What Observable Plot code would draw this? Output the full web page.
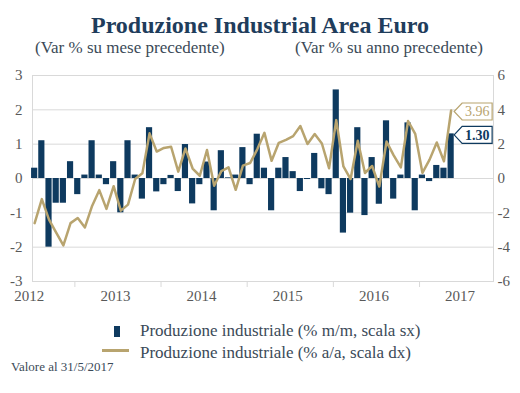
<!DOCTYPE html>
<html>
<head>
<meta charset="utf-8">
<script src="https://cdn.jsdelivr.net/npm/d3@7"></script>
<script src="https://cdn.jsdelivr.net/npm/@observablehq/plot@0.6"></script>
<style>
  html, body { margin: 0; padding: 0; background: #fff; }
  #wrap { position: relative; width: 520px; height: 393px; overflow: hidden; font-family: "Liberation Serif", serif; }
  #wrap svg { position: absolute; left: 0; top: 0; }
  .t { position: absolute; line-height: 1; white-space: nowrap; }
</style>
</head>
<body>
<div id="wrap">
  <div class="t" style="left:0;width:520px;text-align:center;top:13px;font-size:24px;font-weight:bold;color:#1f3d5c;">Produzione Industrial Area Euro</div>
  <div class="t" style="left:35px;top:38.8px;font-size:17px;color:#3b4a58;">(Var % su mese precedente)</div>
  <div class="t" style="left:295px;top:38.8px;font-size:17px;color:#3b4a58;">(Var % su anno precedente)</div>
  <div id="legend"></div>
  <div class="t" style="left:11px;top:360px;font-size:13px;color:#3b4a58;">Valore al 31/5/2017</div>
</div>
<script>
// ---- Data ----
const startYear = 2012; // first month: January 2012
const mm = [0.3, 1.1, -2.0, -0.72, -0.72, 0.49, -0.47, 0.1, 1.1, 0.1,
  -0.18, 0.49, -1.0, 1.1, 0.1, -0.6, 1.48, -0.39, -0.18, 0.09,
  -0.38, 0.99, -0.74, -0.18, 0.48, -0.94, 0.81, 0.02, 0.1, 0.9,
  -0.18, 1.29, 0.3, -0.94, 0.3, 0.61, 0.2, -0.38, -0.03, 0.73,
  -0.3, -0.47, 2.58, -1.59, -1.01, 1.48, -1.08, 0.61, -0.75, 1.68,
  -0.6, 0.1, 1.62, -0.94, 0.1, -0.09, 0.38, 0.3, 1.30];
const aa = [-2.6, -1.2, -2.4, -3.15, -3.9, -2.6, -2.3, -2.85, -1.6, -0.68,
  -1.77, -0.45, -1.87, -1.52, -0.03, 0.3, 2.63, 1.57, 1.78, 1.85,
  0.4, 1.75, 0.58, 0.16, 1.66, -0.42, 0.43, 0.65, -0.66, 0.75,
  0.9, 1.7, 2.66, 1.03, 2.08, 2.25, 2.47, 3.06, 2.01, 2.59,
  2.04, 0.6, 3.4, 0.7, -0.03, 2.2, 0.32, 0.73, -0.47, 2.15,
  1.35, 0.65, 3.35, 2.6, 0.33, 1.1, 2.1, 1.0, 3.96];
const years = ["2012", "2013", "2014", "2015", "2016", "2017"];
const yLeftTicks = [-3, -2, -1, 0, 1, 2, 3];
const yRightTicks = [-6, -4, -2, 0, 2, 4, 6];
const seriesNames = ["Produzione industriale (% m/m, scala sx)", "Produzione industriale (% a/a, scala dx)"];
const lastLabels = ["3.96", "1.30"];

// ---- Styles ----
const barColor = "#0e3a5f";
const lineColor = "#b8a46f";
const gridColor = "#d9d9d9";

const months = mm.map((v, i) => ({
  i,
  month: `${startYear + Math.floor(i / 12)}-${String(i % 12 + 1).padStart(2, "0")}`,
  mm: v,
  aa: aa[i]
}));
const n = months.length;
const xDomain = [-0.3, 63.9];

function callout(xv, yv, label, stroke, color, bold) {
  return (index, scales) => {
    const x0 = scales.x(xv) + 3.5;
    const y0 = scales.y(yv) + 1.5;
    const w = 38, h = 17, tip = 8;
    const g = d3.create("svg:g");
    g.append("path")
      .attr("d", `M${x0},${y0}L${x0 + tip},${y0 - h / 2}L${x0 + w},${y0 - h / 2}L${x0 + w},${y0 + h / 2}L${x0 + tip},${y0 + h / 2}Z`)
      .attr("fill", "#fff").attr("stroke", stroke).attr("stroke-width", 1.2);
    g.append("text")
      .attr("x", x0 + tip + (w - tip) / 2).attr("y", y0 + 4.8)
      .attr("text-anchor", "middle")
      .attr("font-size", 14).attr("font-family", "Liberation Serif, serif")
      .attr("font-weight", bold ? "bold" : "normal")
      .attr("fill", color).text(label);
    return g.node();
  };
}

const chart = Plot.plot({
  width: 520,
  height: 393,
  marginTop: 75,
  marginBottom: 112,
  marginLeft: 32,
  marginRight: 27,
  style: { fontFamily: "Liberation Serif, serif", color: "#595959", background: "transparent", overflow: "visible" },
  x: { type: "linear", domain: xDomain, axis: null, label: null },
  y: { domain: [-3, 3], axis: null, label: null },
  marks: [
    Plot.ruleY(yLeftTicks, { stroke: gridColor, strokeWidth: 1 }),
    Plot.frame({ stroke: gridColor }),
    Plot.axisX(years.slice(0, 5).map((d, k) => k * 12 + 5.6), { anchor: "bottom", tickSize: 6, stroke: gridColor, tickFormat: () => "", label: null }),
    Plot.text(years, { x: (d, k) => k * 12 - 0.75, frameAnchor: "bottom", dy: 19, text: d => d, fontSize: 15, fill: "#595959" }),
    Plot.axisY(yLeftTicks, { anchor: "left", tickSize: 0, tickPadding: 10, fontSize: 15, tickFormat: d => String(d), label: null }),
    Plot.axisY(yRightTicks.map(v => v / 2), { anchor: "right", tickSize: 0, tickPadding: 4, fontSize: 15, tickFormat: d => String(Math.round(d * 2)), label: null }),
    Plot.rect(months, { x1: d => d.i - 0.43, x2: d => d.i + 0.43, y1: d => 0, y2: d => d.mm, fill: barColor }),
    Plot.line(months, { x: "i", y: d => d.aa / 2, stroke: lineColor, strokeWidth: 2.5 }),
    callout(n - 1, aa[n - 1] / 2, lastLabels[0], lineColor, lineColor, false),
    callout(n - 1, mm[n - 1], lastLabels[1], barColor, barColor, true)
  ]
});
document.getElementById("wrap").prepend(chart);

// ---- Legend ----
const legend = document.getElementById("legend");
legend.innerHTML = `
  <div style="position:absolute;left:114px;top:326px;width:6px;height:11px;background:${barColor};"></div>
  <div class="t" style="left:140px;top:322px;font-size:17px;color:#3b4a58;">${seriesNames[0]}</div>
  <div style="position:absolute;left:102px;top:349px;width:27px;height:2.5px;background:${lineColor};"></div>
  <div class="t" style="left:140px;top:344px;font-size:17px;color:#3b4a58;">${seriesNames[1]}</div>
`;
</script>
</body>
</html>
